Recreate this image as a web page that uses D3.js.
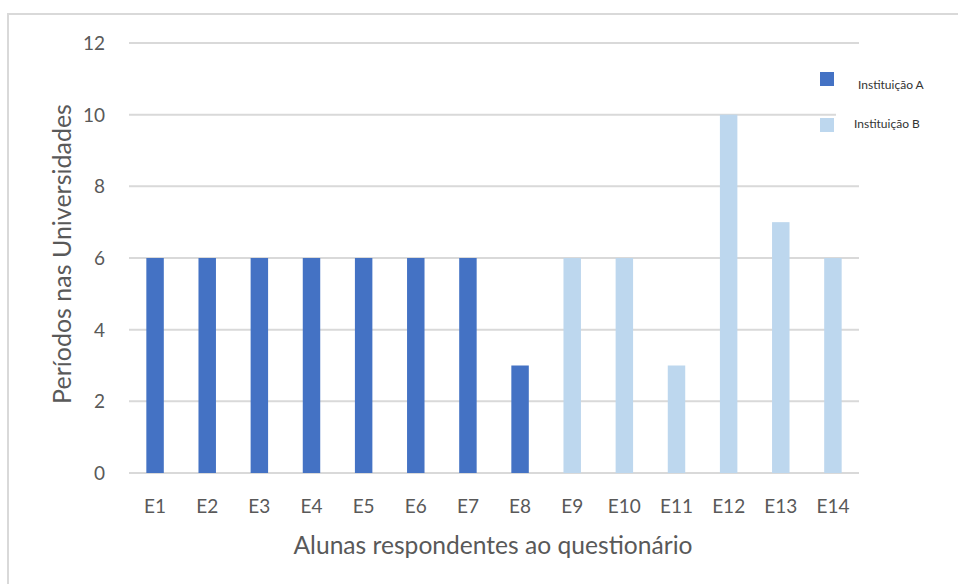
<!DOCTYPE html>
<html>
<head>
<meta charset="utf-8">
<script src="https://cdn.jsdelivr.net/npm/d3@7"></script>
<style>
  html, body { margin: 0; padding: 0; background: #fff; }
  svg { display: block; font-family: Lato, "Open Sans", sans-serif; }
</style>
</head>
<body>
<svg id="chart" width="958" height="584"></svg>
<script>
// Students and the number of university periods reported
const students = ["E1","E2","E3","E4","E5","E6","E7","E8","E9","E10","E11","E12","E13","E14"];
const institutionA = [6, 6, 6, 6, 6, 6, 6, 3, null, null, null, null, null, null];
const institutionB = [null, null, null, null, null, null, null, null, 6, 6, 3, 10, 7, 6];
const seriesNames = ["Instituição A", "Instituição B"];
const seriesColors = ["#4472C4", "#BDD7EE"];
const yTicks = [0, 2, 4, 6, 8, 10, 12];

const svg = d3.select("#chart");
const W = 958, H = 584;
const plot = { left: 129, right: 859, top: 43, bottom: 473 };

// Chart frame
svg.append("rect")
  .attr("x", 8).attr("y", 14)
  .attr("width", W + 20).attr("height", H + 20)
  .attr("fill", "#fff")
  .attr("stroke", "#d9d9d9").attr("stroke-width", 2);

const x = d3.scaleBand().domain(students)
  .range([plot.left, plot.right]).paddingInner(0.665).paddingOuter(0.3325);
const y = d3.scaleLinear().domain([0, 12]).range([plot.bottom, plot.top]);

// Horizontal gridlines
svg.append("g").selectAll("line").data(yTicks).join("line")
  .attr("x1", plot.left).attr("x2", plot.right)
  .attr("y1", d => y(d)).attr("y2", d => y(d))
  .attr("stroke", "#d9d9d9").attr("stroke-width", 2);

// Y axis labels
const yAxis = svg.append("g").attr("transform", `translate(${plot.left - 24},0)`)
  .call(d3.axisLeft(y).tickValues(yTicks).tickSize(0).tickPadding(0));
yAxis.select(".domain").remove();
yAxis.selectAll("text").attr("fill", "#595959").style("font-size", "19px")
  .attr("dy", "0.35em").style("font-family", "Lato, sans-serif");

// X axis labels
const xAxis = svg.append("g").attr("transform", `translate(0,${plot.bottom})`)
  .call(d3.axisBottom(x).tickSize(0).tickPadding(27));
xAxis.select(".domain").remove();
xAxis.selectAll("text").attr("fill", "#595959").style("font-size", "19px")
  .style("font-family", "Lato, sans-serif");

// Bars
[institutionA, institutionB].forEach((vals, i) => {
  svg.append("g").selectAll("rect")
    .data(students.map((s, j) => ({ s, v: vals[j] })).filter(d => d.v != null))
    .join("rect")
    .attr("x", d => x(d.s)).attr("width", x.bandwidth())
    .attr("y", d => y(d.v)).attr("height", d => y(0) - y(d.v))
    .attr("fill", seriesColors[i]);
});

// Axis titles
svg.append("text")
  .attr("x", 493).attr("y", 554)
  .attr("text-anchor", "middle").attr("fill", "#595959")
  .style("font-size", "24.6px")
  .text("Alunas respondentes ao questionário");

svg.append("text")
  .attr("transform", `translate(71,254) rotate(-90)`)
  .attr("text-anchor", "middle").attr("fill", "#595959")
  .style("font-size", "25px")
  .text("Períodos nas Universidades");

// Legend
const legend = svg.append("g");
legend.append("rect").attr("x", 836).attr("y", 60).attr("width", 100).attr("height", 100).attr("fill", "#fff");
const legendRows = [
  { yy: 72, tx: 858, ty: 89 },
  { yy: 118, tx: 854, ty: 128 }
];
seriesNames.forEach((name, i) => {
  legend.append("rect")
    .attr("x", 820).attr("y", legendRows[i].yy).attr("width", 14).attr("height", 14)
    .attr("fill", seriesColors[i]);
  legend.append("text")
    .attr("x", legendRows[i].tx).attr("y", legendRows[i].ty)
    .attr("fill", "#333").style("font-size", "12px")
    .text(name);
});
</script>
</body>
</html>
